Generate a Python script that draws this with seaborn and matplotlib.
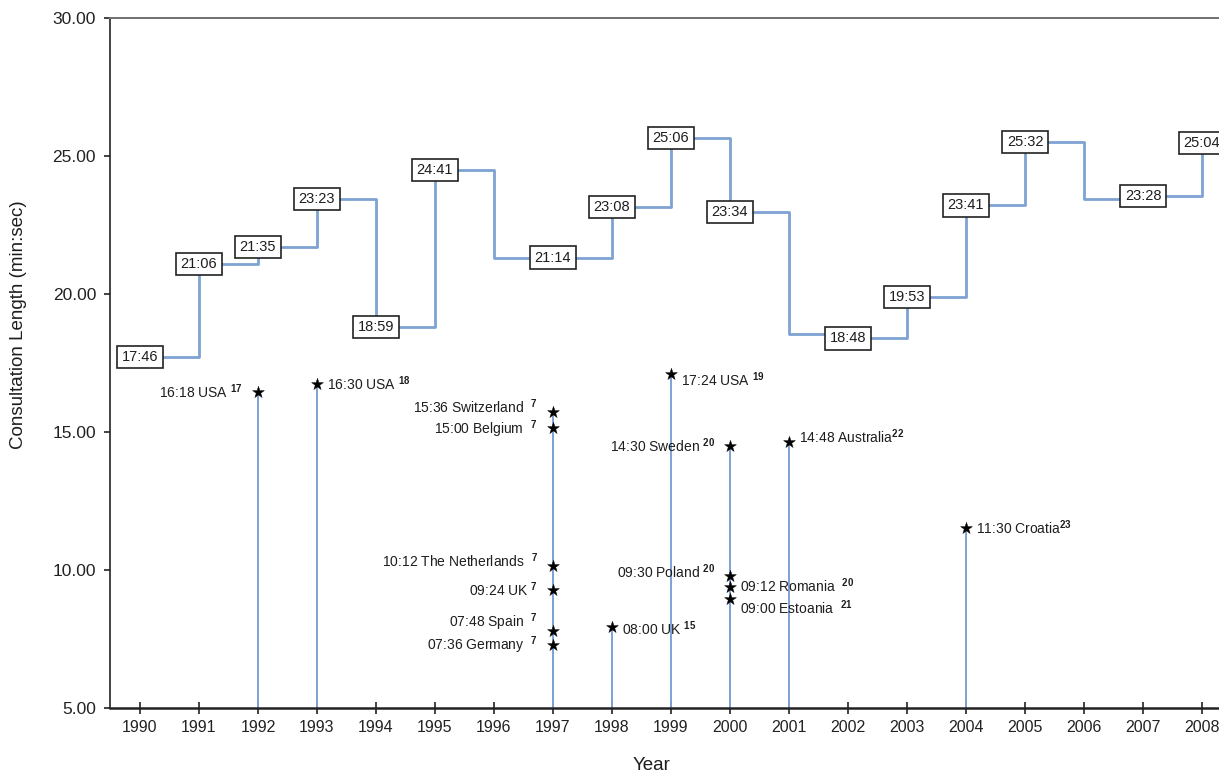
import numpy as np
import pandas as pd
import matplotlib
matplotlib.use("Agg")
import matplotlib.pyplot as plt
from matplotlib.ticker import FormatStrFormatter
import seaborn as sns

# Yearly average consultation length (step line), heights
years = list(range(1990, 2009))
mean_len = [17.72, 21.09, 21.70, 23.44, 18.80, 24.49, 21.32, 21.32, 23.15, 25.65,
            22.97, 18.55, 18.40, 19.89, 23.22, 25.51, 23.44, 23.55, 25.47]
mean_labels = ["17:46", "21:06", "21:35", "23:23", "18:59", "24:41", "", "21:14",
               "23:08", "25:06", "23:34", "", "18:48", "19:53", "23:41", "25:32",
               "", "23:28", "25:04"]

# Single studies (stars)
study_years = [1992, 1993, 1997, 1997, 1997, 1997, 1997, 1997, 1998, 1999,
               2000, 2000, 2000, 2000, 2001, 2004]
study_len = [16.45, 16.74, 15.72, 15.14, 10.14, 9.28, 7.79, 7.28, 7.93, 17.10,
             14.49, 9.78, 9.38, 8.95, 14.64, 11.52]
study_text = ["16:18 USA", "16:30 USA", "15:36 Switzerland", "15:00 Belgium",
              "10:12 The Netherlands", "09:24 UK", "07:48 Spain", "07:36 Germany",
              "08:00 UK", "17:24 USA", "14:30 Sweden", "09:30 Poland",
              "09:12 Romania", "09:00 Estoania", "14:48 Australia", "11:30 Croatia"]
study_ref = ["17", "18", "7", "7", "7", "7", "7", "7", "15", "19",
             "20", "20", "20", "21", "22", "23"]

# label placement (layout only)
label_side = ["L", "R", "L", "L", "L", "L", "L", "L", "R", "R",
              "L", "L", "R", "R", "R", "R"]
label_dy = [0, 0, 4, -1, 4, 0, 6, 0, -1, -4, 0, 3, 1, -6, 4, 0]
ref_gap = [" ", " ", "  ", "  ", "  ", " ", "  ", "  ", " ", " ",
           " ", " ", "  ", "  ", "", ""]

LINE_BLUE = "#7fa2d4"
TXT = "#1e1e1e"

sns.set_theme(style="white")
plt.rcParams["font.family"] = ["Liberation Sans", "DejaVu Sans"]
plt.rcParams["mathtext.fontset"] = "custom"
plt.rcParams["mathtext.rm"] = "Liberation Sans"
plt.rcParams["mathtext.it"] = "Liberation Sans:italic"
plt.rcParams["mathtext.bf"] = "Liberation Sans:bold"

fig = plt.figure(figsize=(12.19, 7.72), dpi=100)
ax = fig.add_axes([110 / 1219, 1 - 708 / 772, 1109 / 1219, 690 / 772])

df = pd.DataFrame({"year": years, "minutes": mean_len})
sns.lineplot(data=df, x="year", y="minutes", drawstyle="steps-post",
             color=LINE_BLUE, lw=2, ax=ax, zorder=2)

# drop lines + stars for individual studies
ax.vlines(study_years, 5, study_len, color=LINE_BLUE, lw=1.4, zorder=1)
sns.scatterplot(x=study_years, y=study_len, marker="*", s=80, color="black",
                edgecolor="black", linewidth=0.3, ax=ax, zorder=4)

# boxed labels on the step line
for yr, val, lab in zip(years, mean_len, mean_labels):
    if not lab:
        continue
    ax.text(yr, val, lab, ha="center", va="center", fontsize=10.5, color=TXT,
            bbox=dict(boxstyle="square,pad=0.3", fc="white", ec="#222222", lw=1.2),
            zorder=5, clip_on=False)

# study labels with superscript references
for i in range(len(study_years)):
    s = f"{study_text[i]}{ref_gap[i]}$^{{\\mathbf{{{study_ref[i]}}}}}$"
    if label_side[i] == "L":
        off, ha = (-11, label_dy[i]), "right"
    else:
        off, ha = (7, label_dy[i]), "left"
    ax.annotate(s, xy=(study_years[i], study_len[i]), xytext=off,
                textcoords="offset points", ha=ha, va="center",
                fontsize=10, color=TXT, zorder=5)

ax.set_xlim(1989.492, 2008.288)
ax.set_ylim(5, 30)
ax.set_xticks(years)
ax.set_yticks([5, 10, 15, 20, 25, 30])
ax.yaxis.set_major_formatter(FormatStrFormatter("%.2f"))

for side in ["left", "bottom", "top"]:
    ax.spines[side].set_visible(True)
ax.spines["right"].set_visible(False)
ax.spines["left"].set_color("#222222")
ax.spines["left"].set_linewidth(1.2)
ax.spines["bottom"].set_color("#222222")
ax.spines["bottom"].set_linewidth(1.8)
ax.spines["top"].set_color("#707070")
ax.spines["top"].set_linewidth(1.4)

ax.tick_params(axis="x", direction="inout", length=9, width=1.2, colors="#222222",
               labelsize=11.5, pad=4, bottom=True)
ax.tick_params(axis="y", direction="out", length=4, width=1.2, colors="#222222",
               labelsize=12.5, pad=6, left=True)

ax.set_xlabel("Year", fontsize=13.5, color=TXT)
ax.set_ylabel("Consultation Length (min:sec)", fontsize=13.5, color=TXT)
ax.xaxis.set_label_coords(0.4887, -0.071)
ax.yaxis.set_label_coords(-0.0745, 0.555)

fig.savefig("out.png", dpi=100)
